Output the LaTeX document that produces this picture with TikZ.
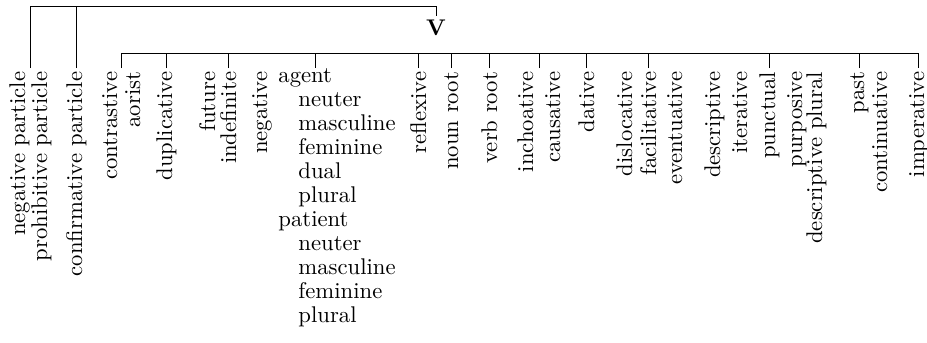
\documentclass[tikz,border=0pt]{standalone}
\usetikzlibrary{calc}
\begin{document}
\begin{tikzpicture}[x=0.4405pt,y=-0.4405pt,
  vlabel/.style={rotate=90,anchor=base east,inner sep=1.5pt},
  hlabel/.style={anchor=base west,inner sep=0pt}]
\useasboundingbox (0,0) rectangle (927,342);

\coordinate (topbar) at (0,6);
\coordinate (lowbar) at (0,53);

\node[font=\bfseries,inner sep=1.5pt] (V) at (436,28) {V};

\foreach \n/\x/\lbl in {negpart/25/negative particle,prohpart/47/prohibitive particle,
  confpart/82/confirmative particle,contr/117/contrastive,aor/140/aorist,
  dupl/172/duplicative,fut/215/future,indef/236/indefinite,neg/267/negative,
  refl/426/reflexive,nroot/458/noun root,vroot/497/verb root,inch/533/inchoative,
  caus/560/causative,dat/594/dative,disl/632/dislocative,facil/656/facilitative,
  event/682/eventuative,descr/720/descriptive,iter/747/iterative,punct/775/punctual,
  purp/802/purposive,descrpl/822/descriptive plural,past/864/past,
  contin/887/continuative,imper/924/imperative}
  \node[vlabel] (\n) at (\x,68) {\lbl};

\node[hlabel] (agent) at (278,82) {agent};
\node[hlabel] (agneut) at (298,106) {neuter};
\node[hlabel] (agmasc) at (298,130) {masculine};
\node[hlabel] (agfem) at (298,154) {feminine};
\node[hlabel] (agdual) at (298,178) {dual};
\node[hlabel] (agpl) at (298,202) {plural};
\node[hlabel] (patient) at (278,226) {patient};
\node[hlabel] (paneut) at (298,250) {neuter};
\node[hlabel] (pamasc) at (298,274) {masculine};
\node[hlabel] (pafem) at (298,298) {feminine};
\node[hlabel] (papl) at (298,322) {plural};

\draw ($(negpart.east)!0.5!(prohpart.east)$) |- (topbar -| V) -- (V.north);
\draw (confpart.east) -- (confpart.east |- topbar);

\coordinate (k1) at ($(contr.east)!0.5!(aor.east)$);
\coordinate (k2) at ($(inch.east)!0.5!(caus.east)$);
\draw (k1) -- (k1 |- lowbar) -- (imper.east |- lowbar) -- (imper.east);
\draw (k2) -- (k2 |- lowbar);
\draw ([xshift=4.4pt]agent.north) -- ([xshift=4.4pt]agent.north |- lowbar);
\foreach \n in {dupl,indef,refl,nroot,vroot,dat,facil,punct,past}
  \draw (\n.east) -- (\n.east |- lowbar);
\end{tikzpicture}
\end{document}
